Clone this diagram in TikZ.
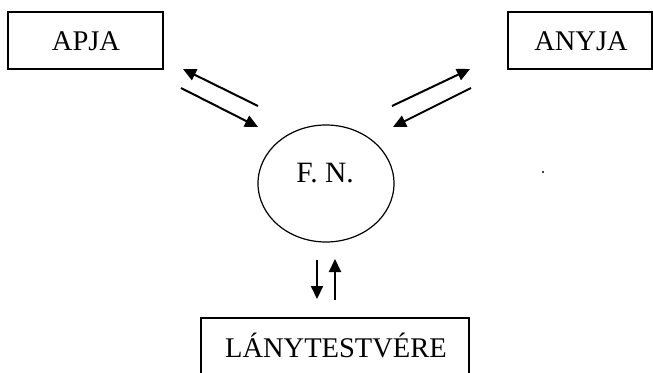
\documentclass[tikz,border=0pt]{standalone}
\usepackage{fontspec}
\setmainfont{Liberation Serif}
\usetikzlibrary{arrows.meta}
\begin{document}
\begin{tikzpicture}[x=1pt,y=-1pt,
  boxlabel/.style={font=\fontsize{28.5}{31}\selectfont, inner sep=0pt, anchor=base},
  frame/.style={draw, line width=1.6pt},
  flow/.style={line width=2pt, -{Triangle[length=13pt,width=12pt]}}]
\useasboundingbox (0,0) rectangle (653,372);
\clip (0,0) rectangle (653,372);
% boxes
\draw[frame] (8,12) rectangle (163,69);
\node[boxlabel] (apja) at (86,50) {APJA};
\draw[frame] (508,12) rectangle (652,69);
\node[boxlabel] (anyja) at (581,50) {ANYJA};
\draw[frame] (201,318) rectangle (469,380);
\node[boxlabel] (lany) at (336,357) {LÁNYTESTVÉRE};
% circle
\draw[line width=1.2pt] (326,183.5) ellipse [x radius=68, y radius=58.5];
\node[boxlabel, font=\fontsize{29.5}{32}\selectfont] (fn) at (325,182) {F. N.};
% dot
\fill (543,172) circle (1.1);
% coordinates
\coordinate (a1s) at (258,106); \coordinate (a1e) at (183,69);
\coordinate (a2s) at (181,88);  \coordinate (a2e) at (258,127);
\coordinate (b1s) at (392,106); \coordinate (b1e) at (470,69);
\coordinate (b2s) at (471,88);  \coordinate (b2e) at (393,127);
\coordinate (c1s) at (317,260); \coordinate (c1e) at (317,299);
\coordinate (c2s) at (335,300); \coordinate (c2e) at (335,259);
% arrows
\draw[flow] (a1s) -- (a1e);
\draw[flow] (a2s) -- (a2e);
\draw[flow] (b1s) -- (b1e);
\draw[flow] (b2s) -- (b2e);
\draw[flow] (c1s) -- (c1e);
\draw[flow] (c2s) -- (c2e);
\end{tikzpicture}
\end{document}
